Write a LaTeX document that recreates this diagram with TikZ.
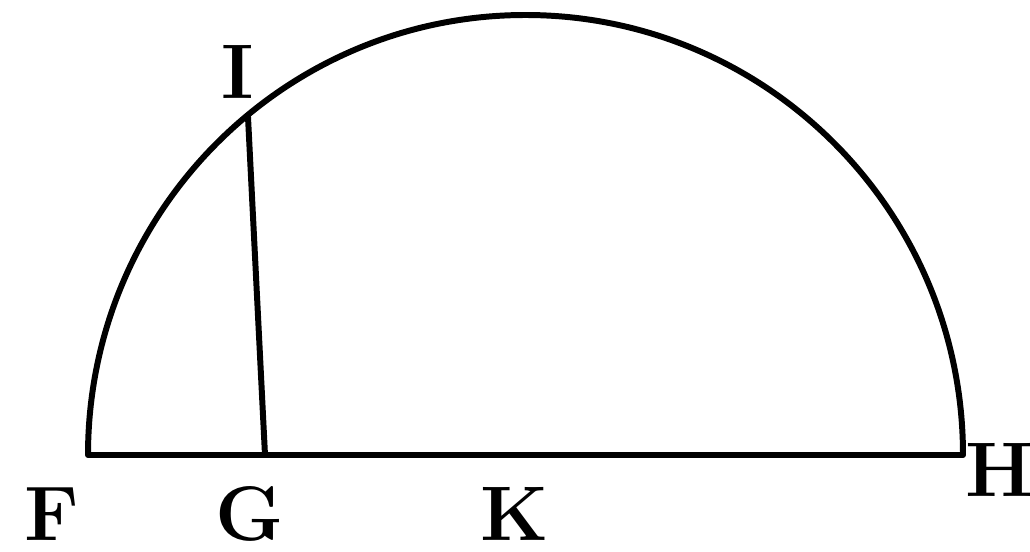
\documentclass[tikz,border=0pt]{standalone}
\begin{document}
\begin{tikzpicture}[x=0.01cm,y=-0.01cm,
  geo/.style={line width=1.7pt, line cap=round, line join=round},
  lbl/.style={inner sep=0pt, font=\fontsize{22}{25}\selectfont\bfseries}]
\useasboundingbox (0,0) rectangle (1030,552);
\coordinate (F) at (88,455);
\coordinate (H) at (963,455);
\coordinate (K) at (525.5,455);
\coordinate (G) at (265,455);
\coordinate (I) at (248,117);
\draw[geo] (H) -- (F) arc[start angle=180, end angle=0, x radius=437.5, y radius=-440];
\draw[geo] (G) -- (I);
\node[lbl] (lF) at (52,514) {F};
\node[lbl] (lG) at (250,514) {G};
\node[lbl] (lK) at (515,514) {K};
\node[lbl] (lH) at (1000,470) {H};
\node[lbl] (lI) at (238,72) {I};
\end{tikzpicture}
\end{document}
